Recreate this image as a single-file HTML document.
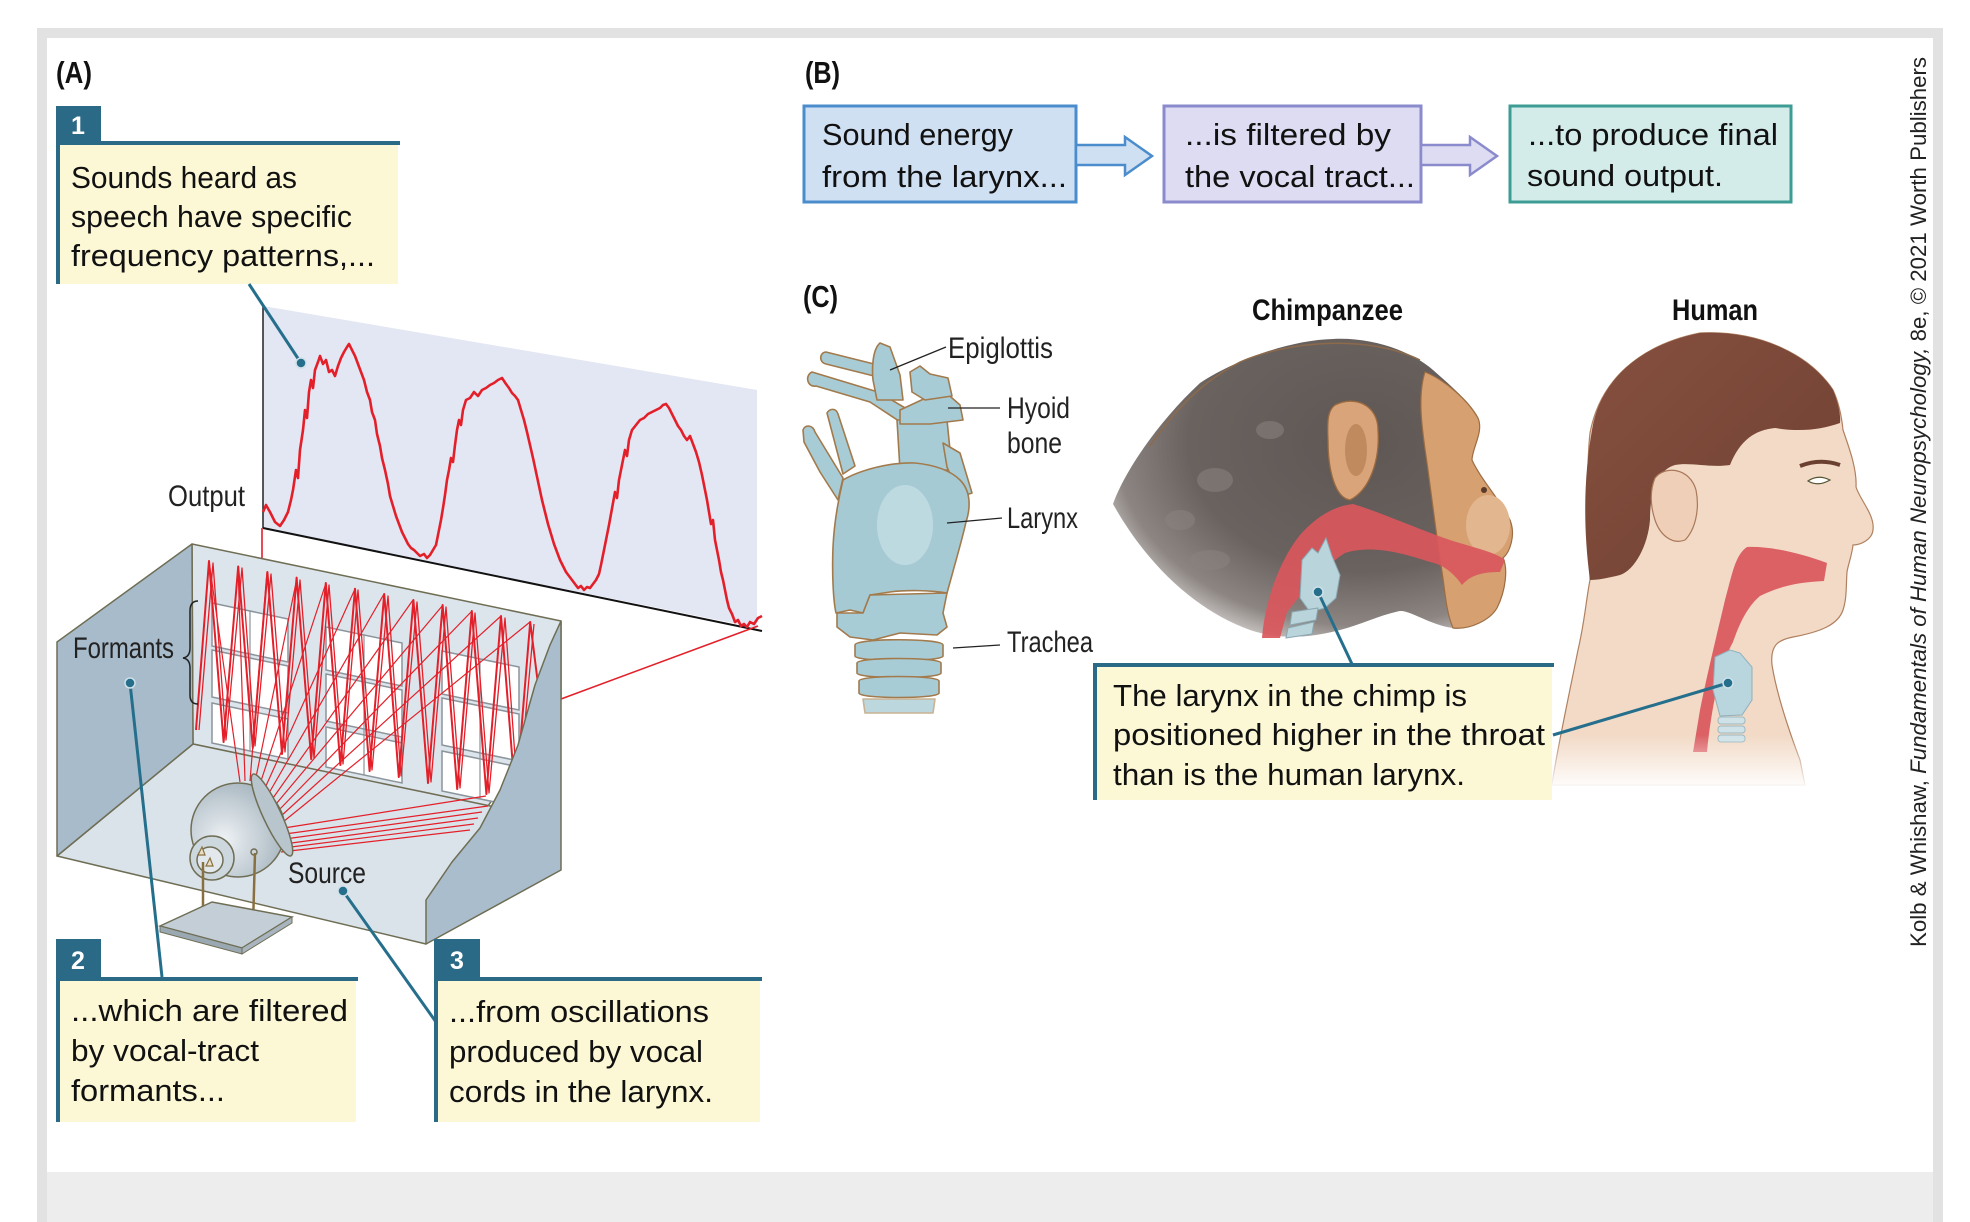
<!DOCTYPE html>
<html><head><meta charset="utf-8"><style>
html,body{margin:0;padding:0;background:#fff;width:1970px;height:1222px;overflow:hidden}
svg{position:absolute;left:0;top:0}
text{font-family:"Liberation Sans",Arial,sans-serif}
</style></head><body>
<svg width="1970" height="1222" viewBox="0 0 1970 1222" xmlns="http://www.w3.org/2000/svg">
<defs>
<radialGradient id="dome" cx="0.35" cy="0.6" r="0.7"><stop offset="0" stop-color="#eef2f5"/><stop offset="1" stop-color="#a4b3bd"/></radialGradient>
<radialGradient id="fur" cx="0.62" cy="0.35" r="0.72"><stop offset="0" stop-color="#5f5754"/><stop offset="0.6" stop-color="#6a625f"/><stop offset="0.85" stop-color="#8c8582"/><stop offset="1" stop-color="#d9d5d3"/></radialGradient>
<linearGradient id="fadeH" x1="0" y1="0" x2="0" y2="1"><stop offset="0" stop-color="#fff" stop-opacity="0"/><stop offset="1" stop-color="#fff" stop-opacity="1"/></linearGradient>
<linearGradient id="hair" x1="0" y1="0" x2="1" y2="1"><stop offset="0" stop-color="#86503f"/><stop offset="1" stop-color="#6f4032"/></linearGradient>
</defs>

<!-- frame -->
<rect x="37" y="28" width="1906" height="1194" fill="#e2e2e2"/>
<rect x="47" y="38" width="1886" height="1134" fill="#ffffff"/>
<rect x="47" y="1172" width="1886" height="50" fill="#ededed"/>

<!-- ============ PANEL A ============ -->
<text x="56" y="83" font-size="31" font-weight="bold" textLength="36" lengthAdjust="spacingAndGlyphs" fill="#111">(A)</text>

<!-- box 1 -->
<rect x="56" y="145" width="342" height="139" fill="#fcf8d6"/>
<rect x="56" y="106" width="45" height="36" fill="#2b6a87"/>
<rect x="56" y="141" width="344" height="4" fill="#2b6a87"/>
<rect x="56" y="141" width="4" height="143" fill="#2b6a87"/>
<text x="78" y="134" font-size="25" font-weight="bold" fill="#fff" text-anchor="middle">1</text>
<g font-size="31" fill="#111">
<text x="71" y="188" textLength="226" lengthAdjust="spacingAndGlyphs">Sounds heard as</text>
<text x="71" y="227" textLength="281" lengthAdjust="spacingAndGlyphs">speech have specific</text>
<text x="71" y="266" textLength="304" lengthAdjust="spacingAndGlyphs">frequency patterns,...</text>
</g>

<!-- graph -->
<polygon points="263,306 757,390 757,628 263,528" fill="#e3e6f3"/>
<line x1="263" y1="306" x2="263" y2="528" stroke="#222" stroke-width="1.5"/>
<line x1="263" y1="528" x2="762" y2="631" stroke="#111" stroke-width="2"/>
<text x="168" y="506" font-size="30" textLength="77" lengthAdjust="spacingAndGlyphs" fill="#222">Output</text>
<polyline fill="none" stroke="#e3202a" stroke-width="2.6" stroke-linejoin="round" points="263,512 266,505 270,512 275,522 280,526 284,520 288,512 291,500 293,490 296,470 298,478 300,450 303,430 305,410 307,418 309,392 311,380 313,388 315,370 318,362 320,356 323,364 326,360 329,372 332,370 335,376 338,366 341,358 344,352 347,347 349,344 352,350 355,356 358,364 361,372 364,380 367,392 370,400 372,412 375,420 377,434 380,446 382,458 385,470 388,484 390,496 393,506 396,516 399,524 402,532 405,538 408,544 411,548 414,550 417,553 420,556 424,554 427,558 430,555 433,550 436,545 439,530 441,520 443,508 445,495 447,480 449,470 451,458 453,462 455,445 457,430 459,420 461,425 463,410 466,400 470,398 474,392 478,396 482,390 486,388 490,385 494,383 498,380 502,378 506,384 509,388 512,393 515,396 518,400 521,410 524,420 527,432 530,445 533,458 536,472 539,486 542,500 545,512 548,524 551,534 554,544 557,552 560,560 563,566 566,572 569,576 572,580 575,584 578,588 581,586 584,590 587,587 590,588 593,584 596,580 599,574 601,565 603,555 605,545 607,535 609,525 611,514 613,503 615,492 617,498 619,480 621,470 623,460 625,450 627,456 629,440 632,430 636,425 640,420 644,418 648,414 652,412 656,410 660,408 663,405 666,404 669,408 672,414 675,420 678,426 681,430 684,436 687,440 690,436 693,444 696,452 699,462 702,475 705,490 707,500 709,512 711,524 713,520 715,540 717,550 719,560 721,572 723,580 725,590 727,600 729,608 732,614 735,622 738,620 741,626 744,624 747,627 750,622 754,624 758,618 762,616"/>
<line x1="262" y1="528" x2="262" y2="558" stroke="#e3202a" stroke-width="1.6"/>
<line x1="561" y1="699" x2="758" y2="626" stroke="#e3202a" stroke-width="1.6"/>

<!-- room -->
<g stroke="#6f6e55" stroke-width="1.5" stroke-linejoin="round">
<polygon points="192,544 561,621 561,700 488,806 193,744" fill="#dde5ec"/>
<polygon points="57,856 193,744 500,808 426,944" fill="#dbe3ea"/>
<polygon points="57,642 192,544 193,744 57,856" fill="#a7bbca"/>
</g>
<!-- windows -->
<g fill="#ffffff" stroke="#8c949c" stroke-width="1.5">
<polygon points="212,603 288,619 288,662 212,646"/>
<polygon points="212,650 288,666 288,713 212,697"/>
<polygon points="212,703 288,719 288,759 212,743"/>
<polygon points="326,627 402,643 402,686 326,670"/>
<polygon points="326,674 402,690 402,737 326,721"/>
<polygon points="326,727 402,743 402,783 326,767"/>
<polygon points="442,651 519,667 519,710 442,694"/>
<polygon points="442,698 519,714 519,761 442,745"/>
<polygon points="442,751 519,767 519,807 442,791"/>
</g>
<g stroke="#8c949c" stroke-width="1.2">
<line x1="250" y1="611" x2="250" y2="751"/><line x1="364" y1="635" x2="364" y2="775"/><line x1="480" y1="659" x2="480" y2="799"/>
</g>
<!-- zigzag waves -->
<polyline fill="none" stroke="#e3202a" stroke-width="2" stroke-linejoin="round" points="196,730 209,561 223.6,742 238.2,566.5 252.8,748 267.4,572 282,754 296.6,577.6 311.2,759 325.8,583 340.4,765 355,588.7 369.6,771 384.2,594 398.8,777 413.4,600 428,783 442.6,605 457.2,789 471.8,611 486.4,794 501,616 515.6,800 530.2,622 540,700"/>
<polyline fill="none" stroke="#e3202a" stroke-width="1.3" stroke-linejoin="round" points="199,730 213,563 226,740 242,568 255,746 271,574 285,752 300,580 314,758 329,585 343,764 358,590 372,770 388,596 401,776 417,602 431,782 446,607 460,788 475,613 489,793 505,618 518,798 534,624"/>
<!-- fan lines -->
<g stroke="#e3202a" stroke-width="1.2" fill="none">
<line x1="240" y1="782" x2="209" y2="561"/>
<line x1="245" y1="781" x2="238" y2="566"/>
<line x1="250" y1="781" x2="267" y2="572"/>
<line x1="255" y1="782" x2="297" y2="578"/>
<line x1="260" y1="784" x2="326" y2="583"/>
<line x1="265" y1="788" x2="355" y2="589"/>
<line x1="269" y1="793" x2="384" y2="594"/>
<line x1="273" y1="798" x2="413" y2="600"/>
<line x1="276" y1="804" x2="443" y2="605"/>
<line x1="279" y1="810" x2="472" y2="611"/>
<line x1="281" y1="816" x2="501" y2="616"/>
<line x1="283" y1="822" x2="530" y2="622"/>
<line x1="284" y1="828" x2="486" y2="796"/>
<line x1="285" y1="834" x2="488" y2="806"/>
<line x1="285" y1="839" x2="482" y2="812"/>
<line x1="284" y1="844" x2="478" y2="818"/>
<line x1="283" y1="848" x2="474" y2="824"/>
<line x1="281" y1="852" x2="470" y2="830"/>
</g>
<!-- right wall -->
<polygon points="561,621 561,870 426,944 426,900 452,862 480,828 500,790 518,745 535,685 550,645" fill="#a9bdcc" stroke="#6f6e55" stroke-width="1.5" stroke-linejoin="round"/>
<!-- source dome -->
<g stroke="#6f6e55" stroke-width="1.5">
<circle cx="238" cy="830" r="47" fill="url(#dome)"/>
<ellipse cx="272" cy="815" rx="9" ry="45" transform="rotate(-25 272 815)" fill="#b8c5cd"/>
<circle cx="212" cy="858" r="22" fill="#cdd8de"/>
<circle cx="210" cy="860" r="13" fill="#e2e8ec"/>
<circle cx="254" cy="852" r="3" fill="#cfd6db"/>
</g>
<g stroke="#8a7040" stroke-width="2.5" fill="none">
<polyline points="203,862 203,918 210,921"/>
<polyline points="255,853 253,926 246,930"/>
</g>
<path d="M198,855 l4,-8 l3,8 z M206,866 l4,-8 l3,8 z" fill="#e8e0c8" stroke="#8a7040" stroke-width="1.2"/>
<polygon points="160,926 212,902 292,917 242,948" fill="#c3ced6" stroke="#6f6e55" stroke-width="1.5"/>
<polygon points="160,926 242,948 242,954 160,932" fill="#9aa8b2" stroke="#6f6e55" stroke-width="1"/>
<polygon points="242,948 292,917 292,923 242,954" fill="#a8b5be" stroke="#6f6e55" stroke-width="1"/>

<!-- labels in room -->
<text x="73" y="658" font-size="30" textLength="101" lengthAdjust="spacingAndGlyphs" fill="#222">Formants</text>
<path d="M198,601 Q190,601 190,611 L190,648 Q190,657 183,658 Q190,659 190,668 L190,695 Q190,704 198,704" fill="none" stroke="#222" stroke-width="1.5"/>
<text x="288" y="883" font-size="30" textLength="78" lengthAdjust="spacingAndGlyphs" fill="#222">Source</text>

<!-- leader lines A -->
<g stroke="#256f8c" stroke-width="3" fill="none">
<line x1="249" y1="284" x2="301" y2="363"/>
<line x1="130" y1="683" x2="162" y2="977"/>
<line x1="343" y1="891" x2="436" y2="1022"/>
</g>
<g fill="#256f8c" stroke="#cfe0e8" stroke-width="1.5">
<circle cx="301" cy="363" r="5"/><circle cx="130" cy="683" r="5"/><circle cx="343" cy="891" r="5"/>
</g>

<!-- box 2 -->
<rect x="56" y="981" width="300" height="141" fill="#fcf8d6"/>
<rect x="56" y="939" width="45" height="39" fill="#2b6a87"/>
<rect x="56" y="977" width="302" height="4" fill="#2b6a87"/>
<rect x="56" y="977" width="4" height="145" fill="#2b6a87"/>
<text x="78" y="969" font-size="25" font-weight="bold" fill="#fff" text-anchor="middle">2</text>
<g font-size="31" fill="#111">
<text x="71" y="1021" textLength="277" lengthAdjust="spacingAndGlyphs">...which are filtered</text>
<text x="71" y="1061" textLength="188" lengthAdjust="spacingAndGlyphs">by vocal-tract</text>
<text x="71" y="1101" textLength="154" lengthAdjust="spacingAndGlyphs">formants...</text>
</g>

<!-- box 3 -->
<rect x="434" y="981" width="326" height="141" fill="#fcf8d6"/>
<rect x="434" y="939" width="46" height="39" fill="#2b6a87"/>
<rect x="434" y="977" width="328" height="4" fill="#2b6a87"/>
<rect x="434" y="977" width="4" height="145" fill="#2b6a87"/>
<text x="457" y="969" font-size="25" font-weight="bold" fill="#fff" text-anchor="middle">3</text>
<g font-size="31" fill="#111">
<text x="449" y="1022" textLength="260" lengthAdjust="spacingAndGlyphs">...from oscillations</text>
<text x="449" y="1062" textLength="254" lengthAdjust="spacingAndGlyphs">produced by vocal</text>
<text x="449" y="1102" textLength="264" lengthAdjust="spacingAndGlyphs">cords in the larynx.</text>
</g>

<!-- ============ PANEL B ============ -->
<text x="805" y="83" font-size="31" font-weight="bold" textLength="35" lengthAdjust="spacingAndGlyphs" fill="#111">(B)</text>
<rect x="804" y="106" width="272" height="96" fill="#d0e0f3" stroke="#4a8ccc" stroke-width="3"/>
<polygon points="1076,145 1125,145 1125,137 1152,156 1125,175 1125,165 1076,165" fill="#d0e0f3" stroke="#4a8ccc" stroke-width="2.5" stroke-linejoin="miter"/>
<rect x="1164" y="106" width="257" height="96" fill="#dddcf2" stroke="#8a8acc" stroke-width="3"/>
<polygon points="1421,145 1470,145 1470,137 1497,156 1470,175 1470,165 1421,165" fill="#dddcf2" stroke="#8a8acc" stroke-width="2.5"/>
<rect x="1510" y="106" width="281" height="96" fill="#d3ecea" stroke="#3d9d95" stroke-width="3"/>
<g font-size="31" fill="#111">
<text x="822" y="145" textLength="191" lengthAdjust="spacingAndGlyphs">Sound energy</text>
<text x="822" y="187" textLength="245" lengthAdjust="spacingAndGlyphs">from the larynx...</text>
<text x="1185" y="145" textLength="206" lengthAdjust="spacingAndGlyphs">...is filtered by</text>
<text x="1185" y="187" textLength="230" lengthAdjust="spacingAndGlyphs">the vocal tract...</text>
<text x="1528" y="145" textLength="250" lengthAdjust="spacingAndGlyphs">...to produce final</text>
<text x="1527" y="186" textLength="196" lengthAdjust="spacingAndGlyphs">sound output.</text>
</g>

<!-- ============ PANEL C ============ -->
<text x="803" y="307" font-size="31" font-weight="bold" textLength="35" lengthAdjust="spacingAndGlyphs" fill="#111">(C)</text>

<!-- larynx illustration -->
<g stroke="#a27a4c" stroke-width="1.6" stroke-linejoin="round" fill="#a8ccd6">
<path d="M826,352 C820,352 818,362 826,364 L882,378 C888,378 888,368 882,366 Z"/>
<path d="M812,372 C804,376 808,388 816,386 L870,402 L905,425 L912,412 L878,392 Z"/>
<path d="M803,430 C805,424 813,425 815,432 L843,478 L838,500 L820,472 L804,442 Z"/>
<path d="M827,413 C830,408 836,408 838,414 L855,466 L843,474 Z"/>
<path d="M897,420 L947,420 L952,470 L900,470 Z"/>
<path d="M943,443 L960,453 L972,493 L960,497 L947,467 Z"/>
<path d="M843,480 C860,470 890,462 915,463 C935,465 950,470 960,480 C972,492 970,510 966,522 C962,540 956,560 952,575 L947,593 C930,590 905,590 890,592 L870,595 L863,613 L850,610 L836,613 C833,600 832,570 833,547 C834,525 837,505 843,480 Z" fill="#a6cad4"/>
<path d="M837,613 L863,613 L870,595 L947,593 L943,613 L947,627 L937,635 L900,633 L873,640 L850,637 L837,627 Z"/>
<path d="M900,410 L943,390 L960,405 L963,420 L930,424 L900,424 Z"/>
<path d="M880,343 C872,350 872,370 873,380 L877,400 L903,400 L900,375 L890,347 Z"/>
<path d="M910,372 L920,366 L930,374 L948,378 L952,396 L925,400 L912,392 Z"/>
<path d="M855,645 C855,638 943,638 943,645 L943,656 C943,662 855,662 855,656 Z"/>
<path d="M857,663 C857,657 941,657 941,663 L941,673 C941,679 857,679 857,673 Z"/>
<path d="M859,681 C859,675 939,675 939,681 L939,693 C939,699 859,699 859,693 Z"/>
<path d="M863,699 L935,699 L933,713 L865,713 Z" fill="#bcd7de" stroke="#c9b394"/>
</g>
<ellipse cx="905" cy="525" rx="28" ry="40" fill="#c4dde4" opacity="0.8"/>
<g stroke="#222" stroke-width="1.3">
<line x1="890" y1="370" x2="946" y2="347"/>
<line x1="948" y1="408" x2="1000" y2="408"/>
<line x1="947" y1="523" x2="1002" y2="518"/>
<line x1="953" y1="648" x2="1000" y2="645"/>
</g>
<g font-size="30" fill="#222">
<text x="948" y="358" textLength="105" lengthAdjust="spacingAndGlyphs">Epiglottis</text>
<text x="1007" y="418" textLength="63" lengthAdjust="spacingAndGlyphs">Hyoid</text>
<text x="1007" y="453" textLength="55" lengthAdjust="spacingAndGlyphs">bone</text>
<text x="1007" y="528" textLength="71" lengthAdjust="spacingAndGlyphs">Larynx</text>
<text x="1007" y="652" textLength="86" lengthAdjust="spacingAndGlyphs">Trachea</text>
</g>

<!-- Chimp -->
<text x="1252" y="320" font-size="30" font-weight="bold" textLength="151" lengthAdjust="spacingAndGlyphs" fill="#111">Chimpanzee</text>
<path d="M1113,504 C1125,470 1160,420 1200,383 C1235,360 1290,340 1333,339 C1370,337 1410,350 1433,370 C1450,385 1468,400 1478,418 C1484,432 1472,448 1472,460 C1480,478 1500,500 1510,520 C1516,535 1510,552 1503,558 C1508,568 1506,590 1497,608 C1490,620 1470,630 1453,628 C1430,625 1410,610 1400,611 C1380,615 1360,625 1340,630 C1310,638 1280,640 1250,630 C1200,612 1150,570 1113,504 Z" fill="url(#fur)"/>
<path d="M1150,446 C1175,410 1200,383 1240,362 C1290,340 1370,335 1420,360" fill="none" stroke="#8c6a4c" stroke-width="1.5"/>
<g fill="#8a8380" opacity="0.55">
<ellipse cx="1215" cy="480" rx="18" ry="12"/><ellipse cx="1180" cy="520" rx="15" ry="10"/><ellipse cx="1270" cy="430" rx="14" ry="9"/><ellipse cx="1210" cy="560" rx="20" ry="10"/>
</g>
<path d="M1425,372 C1445,380 1468,400 1478,418 C1484,432 1472,448 1472,460 C1480,478 1500,500 1510,520 C1516,535 1510,552 1503,558 C1508,568 1506,590 1497,608 C1490,620 1470,630 1453,628 C1445,610 1445,585 1440,560 C1436,530 1432,500 1428,470 C1424,440 1416,400 1425,372 Z" fill="#d6a071" stroke="#9c6d43" stroke-width="1.2"/>
<ellipse cx="1488" cy="525" rx="22" ry="30" fill="#e2b68e"/>
<circle cx="1484" cy="490" r="3" fill="#5a3a28"/>
<path d="M1335,405 C1355,395 1378,405 1378,430 C1380,460 1370,490 1350,500 C1335,498 1328,470 1328,440 C1327,420 1328,410 1335,405 Z" fill="#d9a47a" stroke="#9a6a40" stroke-width="1.3"/>
<ellipse cx="1356" cy="450" rx="11" ry="26" fill="#c08a5e"/>
<path d="M1353,504 C1380,512 1420,530 1450,540 C1475,548 1495,552 1505,560 L1500,572 C1480,572 1470,576 1462,585 C1455,575 1445,565 1430,562 C1400,552 1370,545 1345,553 C1325,565 1305,590 1287,612 L1280,638 L1262,638 C1265,600 1280,560 1300,535 C1315,518 1333,506 1353,504 Z" fill="#d9575c" opacity="0.92"/>
<path d="M1302,560 L1312,548 L1318,553 L1326,538 L1332,556 L1340,575 L1336,598 L1325,608 L1310,612 L1300,598 Z" fill="#b9d4db" stroke="#8aa8b2" stroke-width="1"/>
<path d="M1292,612 L1318,608 L1316,620 L1290,625 Z M1288,628 L1314,622 L1312,634 L1286,638 Z" fill="#b9d4db" stroke="#8aa8b2" stroke-width="1"/>

<!-- Human -->
<text x="1672" y="320" font-size="30" font-weight="bold" textLength="86" lengthAdjust="spacingAndGlyphs" fill="#111">Human</text>
<path d="M1590,433 C1600,380 1640,345 1700,333 C1760,330 1810,355 1833,390 C1840,405 1842,420 1843,430 C1850,450 1857,470 1856,487 C1860,500 1875,515 1873,530 C1872,540 1860,545 1853,545 C1852,555 1848,565 1847,572 C1846,585 1847,598 1843,610 C1838,625 1820,632 1793,637 C1778,640 1770,645 1772,665 C1776,690 1785,720 1800,760 L1805,785 L1552,785 C1555,760 1568,700 1578,650 C1585,620 1586,600 1590,580 C1590,540 1585,480 1590,433 Z" fill="#f2dac6" stroke="#b08060" stroke-width="1.2"/>
<path d="M1590,580 C1582,520 1585,470 1592,430 C1600,380 1640,345 1700,333 C1760,330 1810,355 1833,390 C1838,402 1841,415 1840,423 C1820,430 1800,432 1775,428 C1755,430 1740,440 1730,465 C1710,468 1690,462 1675,465 C1658,470 1650,490 1650,520 C1648,545 1635,570 1620,575 C1608,578 1598,580 1590,580 Z" fill="url(#hair)"/>
<path d="M1655,478 C1665,465 1690,468 1696,490 C1700,510 1695,530 1685,540 C1672,545 1660,535 1655,520 C1650,505 1650,490 1655,478 Z" fill="#efcfb8" stroke="#a87858" stroke-width="1.2"/>
<path d="M1800,466 Q1820,458 1840,465" fill="none" stroke="#6b4030" stroke-width="4"/>
<path d="M1808,481 Q1818,474 1830,480 Q1818,487 1808,481 Z" fill="#fff" stroke="#553" stroke-width="1.2"/>
<path d="M1827,563 C1800,553 1770,546 1747,547 C1735,555 1732,575 1725,600 C1718,630 1708,670 1700,710 L1693,752 L1707,752 C1711,710 1720,665 1733,642 C1740,622 1748,606 1760,596 C1780,586 1800,582 1824,581 Z" fill="#d9575c" opacity="0.92"/>
<path d="M1715,657 L1730,650 L1740,653 L1752,667 L1752,700 L1742,715 L1720,716 L1713,690 Z" fill="#b9d5de" stroke="#8fb0bb" stroke-width="1"/>
<g fill="#cfe2e7" stroke="#9db8c0" stroke-width="1">
<rect x="1718" y="717" width="27" height="7" rx="3"/><rect x="1718" y="726" width="27" height="7" rx="3"/><rect x="1718" y="735" width="27" height="7" rx="3"/>
</g>
<rect x="1545" y="735" width="280" height="55" fill="url(#fadeH)"/>

<!-- callout C -->
<rect x="1093" y="667" width="459" height="133" fill="#fcf8d6"/>
<rect x="1093" y="663" width="461" height="4" fill="#2b6a87"/>
<rect x="1093" y="663" width="4" height="137" fill="#2b6a87"/>
<g font-size="31" fill="#111">
<text x="1113" y="706" textLength="354" lengthAdjust="spacingAndGlyphs">The larynx in the chimp is</text>
<text x="1113" y="745" textLength="432" lengthAdjust="spacingAndGlyphs">positioned higher in the throat</text>
<text x="1113" y="785" textLength="352" lengthAdjust="spacingAndGlyphs">than is the human larynx.</text>
</g>
<g stroke="#256f8c" stroke-width="3">
<line x1="1318" y1="592" x2="1352" y2="664"/>
<line x1="1553" y1="735" x2="1728" y2="683"/>
</g>
<g fill="#256f8c" stroke="#cfe0e8" stroke-width="1.5">
<circle cx="1318" cy="592" r="5"/><circle cx="1728" cy="683" r="5"/>
</g>

<!-- copyright -->
<text x="1926" y="947" transform="rotate(-90 1926 947)" font-size="22" fill="#222" textLength="890" lengthAdjust="spacingAndGlyphs">Kolb &amp; Whishaw, <tspan font-style="italic">Fundamentals of Human Neuropsychology,</tspan> 8e, © 2021 Worth Publishers</text>
</svg>
</body></html>
